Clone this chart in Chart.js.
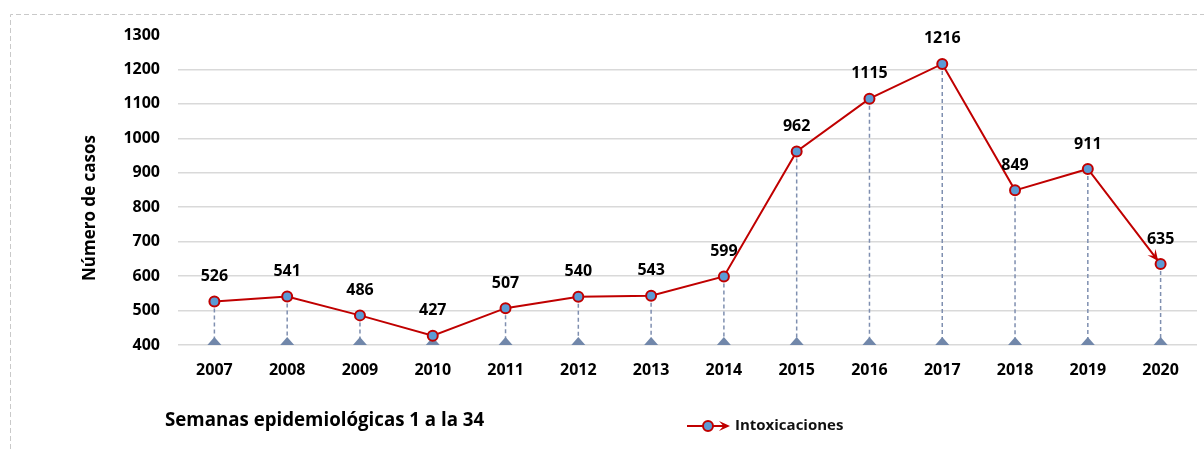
<!DOCTYPE html>
<html><head><meta charset="utf-8">
<script src="https://cdn.jsdelivr.net/npm/chart.js@4/dist/chart.umd.min.js"></script>
<style>html,body{margin:0;padding:0;background:#fff}#wrap{width:1204px;height:449px;position:relative}</style>
</head><body><div id="wrap"><canvas id="c" width="1204" height="449"></canvas></div>
<script>
const years = ['2007','2008','2009','2010','2011','2012','2013','2014','2015','2016','2017','2018','2019','2020'];
const cases = [526,541,486,427,507,540,543,599,962,1115,1216,849,911,635];
const yTicks = [400,500,600,700,800,900,1000,1100,1200,1300];
const seriesName = 'Intoxicaciones';
const yTitle = 'Número de casos';
const note = 'Semanas epidemiológicas 1 a la 34';

const FONT = '"Open Sans", Lato, sans-serif';
const RED = '#c00000', BLUE = '#5b9bd5', DROP = '#7f8fb0';

function arrowHead(ctx, x0, y0, x1, y1, len, wid, color) {
  const a = Math.atan2(y1 - y0, x1 - x0);
  ctx.save();
  ctx.translate(x1, y1); ctx.rotate(a);
  ctx.fillStyle = color;
  ctx.beginPath();
  ctx.moveTo(0, 0); ctx.lineTo(-len, -wid); ctx.lineTo(-len * 0.6, 0); ctx.lineTo(-len, wid); ctx.closePath();
  ctx.fill();
  ctx.restore();
}

const deco = {
  id: 'deco',
  beforeDatasetsDraw(chart) {
    const ctx = chart.ctx, xs = chart.scales.x, ys = chart.scales.y;
    const base = ys.getPixelForValue(yTicks[0]);
    ctx.save();
    ctx.strokeStyle = DROP; ctx.lineWidth = 1.5; ctx.setLineDash([4, 3]);
    cases.forEach((v, i) => {
      const x = xs.getPixelForValue(i), y = ys.getPixelForValue(v);
      ctx.beginPath(); ctx.moveTo(x, y); ctx.lineTo(x, base); ctx.stroke();
    });
    ctx.setLineDash([]);
    ctx.fillStyle = '#7187aa';
    cases.forEach((v, i) => {
      const x = xs.getPixelForValue(i);
      ctx.beginPath(); ctx.moveTo(x - 7, base); ctx.lineTo(x, base - 8); ctx.lineTo(x + 7, base); ctx.closePath(); ctx.fill();
    });
    ctx.restore();
  },
  afterDatasetsDraw(chart) {
    const ctx = chart.ctx, xs = chart.scales.x, ys = chart.scales.y;
    ctx.save();
    const n = cases.length;
    const x0 = xs.getPixelForValue(n - 2), y0 = ys.getPixelForValue(cases[n - 2]);
    const x1 = xs.getPixelForValue(n - 1), y1 = ys.getPixelForValue(cases[n - 1]);
    const a = Math.atan2(y1 - y0, x1 - x0);
    arrowHead(ctx, x0, y0, x1 - Math.cos(a) * 4, y1 - Math.sin(a) * 4, 11, 5, RED);
    ctx.fillStyle = '#000'; ctx.font = 'bold 16px ' + FONT;
    ctx.textAlign = 'center'; ctx.textBaseline = 'middle';
    cases.forEach((v, i) => {
      ctx.fillText(String(v), xs.getPixelForValue(i), ys.getPixelForValue(v) - 25);
    });
    ctx.save();
    ctx.translate(90, 208); ctx.rotate(-Math.PI / 2);
    ctx.font = 'bold 17px ' + FONT; ctx.fillText(yTitle, 0, 0);
    ctx.restore();
    ctx.textAlign = 'left'; ctx.font = 'bold 18.7px ' + FONT;
    ctx.fillText(note, 165, 421);
    const ly = 426;
    ctx.strokeStyle = RED; ctx.lineWidth = 2;
    ctx.beginPath(); ctx.moveTo(687, ly); ctx.lineTo(728, ly); ctx.stroke();
    arrowHead(ctx, 687, ly, 730, ly, 11, 5, RED);
    ctx.beginPath(); ctx.arc(708, ly, 5, 0, Math.PI * 2);
    ctx.fillStyle = BLUE; ctx.fill(); ctx.strokeStyle = RED; ctx.lineWidth = 2; ctx.stroke();
    ctx.fillStyle = '#111'; ctx.font = 'bold 15px ' + FONT; ctx.textBaseline = 'middle';
    ctx.fillText(seriesName, 735, ly);
    ctx.strokeStyle = '#c9c9c9'; ctx.lineWidth = 1; ctx.setLineDash([5, 3]);
    ctx.beginPath(); ctx.moveTo(10.5, 449); ctx.lineTo(10.5, 14.5); ctx.lineTo(1204, 14.5); ctx.stroke();
    ctx.restore();
  }
};

new Chart(document.getElementById('c'), {
  type: 'line',
  data: {
    labels: years,
    datasets: [{
      label: seriesName, data: cases,
      borderColor: RED, borderWidth: 2,
      pointRadius: 5, pointBackgroundColor: BLUE, pointBorderColor: RED, pointBorderWidth: 2,
      tension: 0
    }]
  },
  options: {
    responsive: false, animation: false, devicePixelRatio: 1,
    layout: { padding: { top: 35, right: 7, left: 0, bottom: 0 } },
    plugins: { legend: { display: false }, tooltip: { enabled: false } },
    scales: {
      x: {
        offset: true,
        grid: { display: false, drawTicks: false },
        border: { display: false },
        ticks: { color: '#000', font: { family: FONT, size: 16, weight: 'bold' }, padding: 16, maxRotation: 0 },
        afterFit(s) { s.height = 104; }
      },
      y: {
        min: 400, max: 1300,
        afterBuildTicks(s) { s.ticks = yTicks.map(v => ({ value: v })); },
        grid: { color: c => c.tick && c.tick.value === 1300 ? 'rgba(0,0,0,0)' : '#d9d9d9', lineWidth: 1.5, drawTicks: false },
        border: { display: false },
        ticks: { color: '#000', font: { family: FONT, size: 16, weight: 'bold' }, padding: 18, callback: v => String(v) },
        afterFit(s) { s.width = 178; }
      }
    }
  },
  plugins: [deco]
});
</script></body></html>
